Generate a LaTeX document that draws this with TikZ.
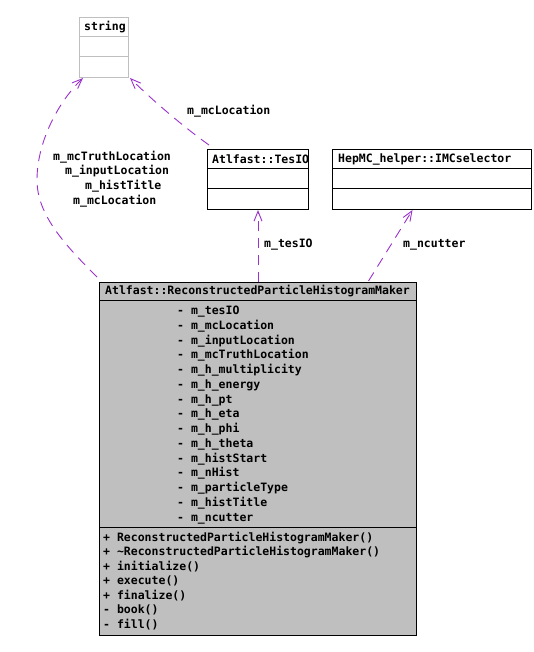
\documentclass[tikz,border=0pt]{standalone}
\usepackage{fontspec}
\setmonofont{DejaVu Sans Mono}
\usepackage{tikz}
\usetikzlibrary{arrows.meta}
\definecolor{edgepurple}{RGB}{154,50,205}
\definecolor{classgray}{RGB}{191,191,191}
\tikzset{classbox/.style={draw=black, line width=1pt, anchor=north west, inner sep=0pt},
  uses/.style={draw=edgepurple, line width=0.9pt, dash pattern=on 10pt off 7pt, -{Straight Barb[length=10pt,width=8pt]}},
  lbl/.style={font=\ttfamily\bfseries\fontsize{11.5}{14.75}\selectfont, inner sep=0pt},}

\begin{document}
\begin{tikzpicture}[x=1pt, y=-1pt]
    \useasboundingbox (0,0) rectangle (534,652);
    % class string (grey frame)
    \node[classbox, draw=classgray, minimum width=49pt, minimum height=60pt] (str) at (79,17) {};
    \draw[classgray, line width=1pt] (79,37) -- (128,37) (79,57) -- (128,57);
    \node[lbl, anchor=west] at (84,27) {string};

    % class Atlfast::TesIO
    \node[classbox, minimum width=101pt, minimum height=60pt] (tesio) at (207,149) {};
    \draw[line width=1pt] (207,169) -- (308,169) (207,189) -- (308,189);
    \node[lbl, anchor=west] at (212,159) {Atlfast::TesIO};

    % class HepMC_helper::IMCselector
    \node[classbox, minimum width=199pt, minimum height=60pt] (imc) at (332,149) {};
    \draw[line width=1pt] (332,169) -- (531,169) (332,189) -- (531,189);
    \node[lbl, anchor=west] at (338,159) {HepMC\_helper::IMCselector};

    % the main class
    \node[classbox, fill=classgray, minimum width=317pt, minimum height=353pt] (main) at (99,282) {};
    \draw[line width=1pt] (99,300) -- (416,300) (99,527) -- (416,527);
    \node[lbl] at (257.5,291) {Atlfast::ReconstructedParticleHistogramMaker};
    % base = baseline of the last line
    \node[lbl, anchor=base west, align=left] at (177,521.2) {- m\_tesIO\\- m\_mcLocation\\- m\_inputLocation\\- m\_mcTruthLocation\\- m\_h\_multiplicity\\- m\_h\_energy\\- m\_h\_pt\\- m\_h\_eta\\- m\_h\_phi\\- m\_h\_theta\\- m\_histStart\\- m\_nHist\\- m\_particleType\\- m\_histTitle\\- m\_ncutter};
    \node[lbl, anchor=base west, align=left, font=\ttfamily\bfseries\fontsize{11.5}{14.5}\selectfont] at (103,628.2) {+ ReconstructedParticleHistogramMaker()\\+ \textasciitilde ReconstructedParticleHistogramMaker()\\+ initialize()\\+ execute()\\+ finalize()\\- book()\\- fill()};

    % usage edges
    \draw[uses] ([xshift=-2pt,yshift=5pt]main.north west) .. controls (65,245) and (37,215) .. (37,180)
        .. controls (37,140) and (60,100) .. ([xshift=4pt]str.south west);
    \node[lbl, anchor=west] at (53,157) {m\_mcTruthLocation};
    \node[lbl, anchor=west] at (65,171) {m\_inputLocation};
    \node[lbl, anchor=west] at (85,186) {m\_histTitle};
    \node[lbl, anchor=west] at (73,201) {m\_mcLocation};

    \draw[uses] ([xshift=2pt,yshift=4pt]tesio.north west) .. controls (185,128) and (152,100) .. ([xshift=1pt]str.south east);
    \node[lbl, anchor=west] at (187,111) {m\_mcLocation};

    \draw[uses] (main.north) -- (tesio.south);
    \node[lbl, anchor=west] at (264,245) {m\_tesIO};

    \draw[uses] ([xshift=110.5pt,yshift=1pt]main.north) -- ([xshift=-19.5pt]imc.south);
    \node[lbl, anchor=west] at (403,245) {m\_ncutter};
\end{tikzpicture}
\end{document}
